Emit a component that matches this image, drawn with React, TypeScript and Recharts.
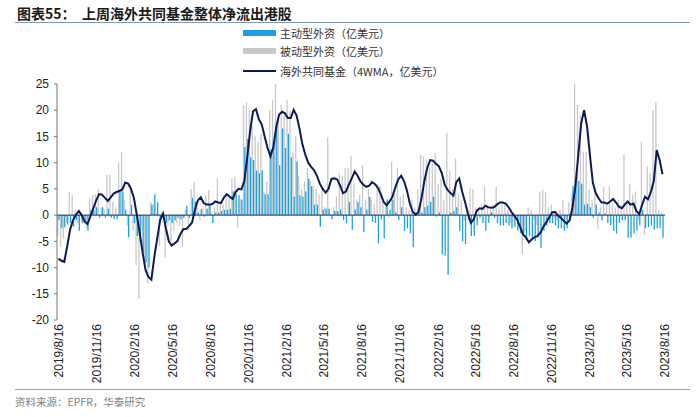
import {
  ComposedChart,
  Bar,
  Line,
  XAxis,
  YAxis,
  ReferenceLine,
} from "recharts";

// weekly flows, 2019/8/16 .. 2023/8/11 (亿美元)
const activeFlow = [
  -1.0, -2.5, -2.3, -1.8, -1.5, -2.2, -1.0, -3.0, -1.5, -1.2, -3.0, 1.0, 1.0, 1.5, -0.5, 1.5, -0.5, 1.2, -0.5, -0.8,
  -0.8, 4.5, 4.5, 1.0, -4.2, 2.0, -1.5, -4.0, -5.0, -7.0, -9.0, -10.0, 2.0, 4.0, 2.5, -0.5, 0.5, -1.5, -1.0, -1.5,
  -1.0, -0.5, -0.8, -0.5, 1.8, -0.5, 3.3, 2.6, 0.5, 1.2, -0.3, 1.2, 2.0, -1.5, 0.5, 0.5, 0.8, 1.0, 1.0, 1.2,
  4.5, 4.0, 3.8, 3.0, 13, 14.5, 11, 10.5, 8.5, 8, 8.5, 4, 4, 12.5, 13.5, 17, 9.5, 16.5, 12.8, 15.5,
  11, 3.5, 10.2, 3.8, 3.5, 4.5, 7, 5.5, 2, 2, -2.2, 1.0, 1.2, 1.2, -0.8, 0.8, 0.8, 1.0, -1.0, -1.5,
  2.5, -2.8, 1.0, 2.5, 1.5, -3.2, 1.0, 3.5, -1.3, -1.5, -5.4, -0.8, -4.4, 3.0, 1.0, 3.0, 0.5, -1.0, 1.5, -3.0,
  -2.5, -3.5, -6.1, 0.3, 0.5, 0.5, 1.5, 1.8, 2.5, 3.5, -0.3, 0.5, -7.5, -7.7, -11.4, 0.5, 0.8, 1.5, -3, -5,
  -5.5, -1, -4, -4, -2, -0.5, -1.5, -3, -1.5, 0.5, -0.5, -1.5, -2, -2, -1.5, -2, -2.5, -2.2, -3, -3.5,
  -3.5, -4.5, -4, -4.5, -5, -4, -6.2, -3, -2, -1.5, -1.5, -2, -2.5, -2.5, -3, -2.5, -1, 5.5, 6.5, 6.5,
  6, 2, 2.2, 1.5, -0.5, 2, 0.5, -1, 0.3, -1.5, -2, -3, -3.5, -1.5, -1, -1, -4.3, -4.3, -3.5, -3,
  -2, 1, -2.5, -2.3, -2, -2.8, -2.5, -2.5, -4.3,
];

const passiveFlow = [
  -4.0, -6.0, -4.5, -1.5, 4.5, 3.8, 1.0, -1.5, 0.5, -0.8, -2.5, 3.2, 3.8, 4.0, 5.0, 1.5, 1.2, 7.7, 7.7, 2.5,
  1.5, 10.0, 12.0, 3.0, -2.0, 5.7, -3.0, -9.5, -16.0, -3.0, -9.5, -13.0, 2.5, 2.0, 0.5, -6.0, 0.5, -8.0, -2.0, -5.0,
  -3.0, -1.5, -2.0, -6.0, 1.0, -3.0, 5.0, 6.3, 1.5, -1.0, 1.5, 3.8, 4.8, 0.5, 1.5, 7.0, 2.0, 2.0, 3.8, 3.8,
  7.0, 7.2, -2.5, 3.0, 21, 21.5, 20, 17, 15, 14, 15.5, 4.5, 6.5, 20, 22, 25, 18, 21, 19, 22,
  20, 12, 15, 7.5, 5, 6.5, 9, 6.5, 5.5, 5.0, 4, 5, 1.5, 14.8, 0.3, 1.5, 3.5, 8, 7.5, 9,
  9, 11.2, 6, 3, 3.8, 9.5, 3, 5, 3, 2, 6, 5.5, 2.5, 2.0, -0.5, 10.2, 4, 9, 3.5, 4,
  1.5, 1, 3, 1.5, 5, 11.5, 11.2, 10.5, 9, 10.5, 11.8, 6, 7, 3, 15.7, 8.5, 5, 10.8, 4, 3,
  -1, 1.5, 5.2, 5.0, 1.5, 1, 2, 5.5, 1.5, 1, 2, 5.5, 1.5, 2.5, 2, 1, -1.5, 0.5, -0.5, -1,
  -7.5, -3, 1.5, 1, -1, -2, 4.5, 4.8, 4.5, 1.5, 2, -0.5, -1, 1, 3, -1, 2.5, 4, 25, 21,
  19, 12, 12, 5, 3, 4, -2.6, 1.5, 5.3, 2, 5.5, 2, 1.5, 3, 2, 11.5, 2, 6, 4, 4.5,
  -1, 14, -3.8, 9.3, 8, 20, 21.5, 1, 0.5,
];

const fundWma = [
  -8.3, -8.7, -8.9, -6, -2.8, -1.0, 0, 0.8, 0, -1.2, -1.7, -0.3, 1.3, 2.8, 4.0, 3.9, 3.3, 2.7, 3.4, 4.1,
  4.4, 4.6, 4.9, 6.2, 6.0, 5.0, 3.2, 0, -3.5, -7.2, -10.5, -11.8, -12.3, -8.0, -4.5, -1.0, 0.3, -2.5, -5.0, -5.8,
  -5.4, -4.9, -3.6, -2.7, -2.6, -2.1, -1.4, 1.0, 2.8, 3.4, 2.3, 2.0, 2.0, 2.1, 2.6, 2.4, 2.3, 3.4, 4.0, 3.5,
  3.1, 4.4, 5.0, 4.9, 6.5, 11.0, 16.0, 19.8, 20.2, 18.3, 17.3, 15.0, 12.8, 11.2, 13.0, 16.8, 19.2, 19.7, 19.4, 18.5,
  18.5, 20.1, 19.0, 16.5, 13.5, 11.5, 10.0, 9.2, 8.6, 7.5, 6.0, 5.0, 4.3, 5.0, 6.9, 7.0, 6.8, 5.6, 4.2, 4.5,
  5.8, 7.0, 8.3, 7.5, 6.4, 5.8, 5.4, 5.6, 6.3, 5.9, 5.2, 4.0, 2.5, 1.9, 2.6, 3.5, 5.3, 6.8, 7.5, 6.5,
  4.7, 2.2, 0.6, 0.1, 0.6, 3.2, 6.5, 9.0, 10.5, 10.4, 9.8, 9.3, 8.0, 5.8, 4.8, 4.2, 3.7, 6.3, 7.0, 4.5,
  2.5, 0.3, -1.5, -0.8, 0.8, 1.3, 1.2, 1.8, 1.5, 1.4, 1.5, 2.0, 2.4, 2.4, 2.2, 1.5, 0.6, -0.2, -0.9, -2.3,
  -3.7, -4.3, -5.2, -4.6, -4.2, -4.0, -3.3, -2.2, -1.3, -0.4, 0.5, 0.6, -0.1, -0.5, -1.1, -1.6, -1.0, 1.5, 5.5, 11.5,
  17.5, 20.0, 17.0, 11.5, 6.2, 4.2, 3.2, 2.4, 2.4, 2.2, 2.6, 3.1, 2.4, 1.6, 1.3, 2.0, 2.6, 2.0, 2.2, 0.8,
  0.2, 2.0, 3.5, 3.0, 4.4, 6.5, 12.4, 10.5, 7.8,
];

const tickLabels = [
  "2019/8/16", "2019/11/16", "2020/2/16", "2020/5/16", "2020/8/16", "2020/11/16",
  "2021/2/16", "2021/5/16", "2021/8/16", "2021/11/16", "2022/2/16", "2022/5/16",
  "2022/8/16", "2022/11/16", "2023/2/16", "2023/5/16", "2023/8/16",
];
const yTicks = [-20, -15, -10, -5, 0, 5, 10, 15, 20, 25];

const DAY = 86400000;
const toTime = (s: string) => {
  const [y, m, d] = s.split("/").map(Number);
  return Date.UTC(y, m - 1, d);
};
const start = toTime("2019/8/16");

const data = fundWma.map((v, i) => ({
  t: start + i * 7 * DAY,
  active: activeFlow[i],
  passive: passiveFlow[i],
  wma: v,
}));
const tickTimes = tickLabels.map(toTime);
const labelOf = (t: number) => {
  const d = new Date(t);
  return `${d.getUTCFullYear()}/${d.getUTCMonth() + 1}/${d.getUTCDate()}`;
};

const CJK = '"Noto Sans CJK SC", "Liberation Sans", sans-serif';
const BLUE = "#1ea0e1";
const GREY = "#c8c8c8";
const NAVY = "#0e1a55";

export default function App() {
  return (
    <div style={{ position: "absolute", left: 0, top: 0, width: 700, height: 417, background: "#fff", fontFamily: CJK }}>
      <div style={{ position: "absolute", left: 17, top: 4, fontSize: 14, fontWeight: 700, color: "#1a1a1a", lineHeight: "18px", whiteSpace: "pre" }}>
        {"图表55：  上周海外共同基金整体净流出港股"}
      </div>
      <div style={{ position: "absolute", left: 15, top: 22, width: 675, height: 1, background: "#8497b0" }} />

      {/* legend */}
      <div style={{ position: "absolute", left: 243, top: 30, width: 33, height: 6, background: BLUE }} />
      <div style={{ position: "absolute", left: 280, top: 25, fontSize: 11, color: "#333", lineHeight: "16px" }}>主动型外资（亿美元）</div>
      <div style={{ position: "absolute", left: 243, top: 48, width: 33, height: 6, background: GREY }} />
      <div style={{ position: "absolute", left: 280, top: 43, fontSize: 11, color: "#333", lineHeight: "16px" }}>被动型外资（亿美元）</div>
      <div style={{ position: "absolute", left: 243, top: 70, width: 33, height: 2, background: NAVY }} />
      <div style={{ position: "absolute", left: 280, top: 63, fontSize: 11, color: "#333", lineHeight: "16px" }}>海外共同基金（4WMA，亿美元）</div>

      <ComposedChart
        width={700}
        height={417}
        data={data}
        margin={{ top: 84, right: 35, left: 0, bottom: 27 }}
        barGap={-1}
        style={{ position: "absolute", left: 0, top: 0 }}
      >
        <XAxis
          dataKey="t"
          type="number"
          scale="linear"
          domain={[start - 3.5 * DAY, toTime("2023/8/16") + 1 * DAY]}
          ticks={tickTimes}
          tickFormatter={labelOf}
          interval={0}
          axisLine={false}
          tickLine={false}
          height={70}
          angle={-90}
          textAnchor="end"
          dx={-4}
          dy={-4}
          tick={{ fontSize: 12, fill: "#222", fontFamily: '"Liberation Sans", Arial, sans-serif' }}
        />
        <YAxis
          domain={[-20, 25]}
          ticks={yTicks}
          interval={0}
          width={57}
          tickSize={3}
          tickMargin={5}
          axisLine={{ stroke: "#777" }}
          tickLine={{ stroke: "#777" }}
          tick={{ fontSize: 12, fill: "#222", fontFamily: '"Liberation Sans", Arial, sans-serif' }}
        />
        <Bar dataKey="passive" fill={GREY} barSize={2} isAnimationActive={false} />
        <Bar dataKey="active" fill={BLUE} barSize={2} isAnimationActive={false} />
        <ReferenceLine y={0} stroke="#1c2a4a" strokeWidth={1} />
        <Line
          type="linear"
          dataKey="wma"
          stroke={NAVY}
          strokeWidth={2}
          dot={false}
          isAnimationActive={false}
        />
      </ComposedChart>

      <div style={{ position: "absolute", left: 15, top: 389, width: 675, height: 1, background: "#8fa3bf" }} />
      <div style={{ position: "absolute", left: 15, top: 394, fontSize: 10.5, color: "#7f7f7f", lineHeight: "16px" }}>
        资料来源：EPFR，华泰研究
      </div>
    </div>
  );
}
